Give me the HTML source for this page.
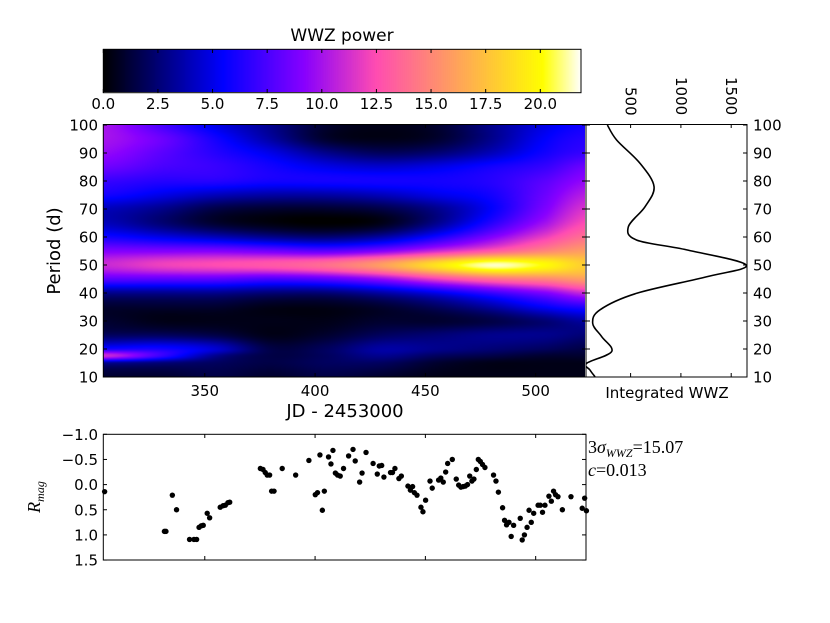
<!DOCTYPE html>
<html><head><meta charset="utf-8">
<style>
body{margin:0;background:#fff;width:830px;height:623px;overflow:hidden;position:relative;font-family:"DejaVu Sans","Liberation Sans",sans-serif}
canvas{position:absolute}
svg{position:absolute;left:0;top:0}
</style></head>
<body>
<canvas id="cb" width="478" height="43" style="left:103px;top:49px"></canvas>
<canvas id="hm" width="482" height="253" style="left:103px;top:124px"></canvas>
<svg id="s" width="830" height="623"></svg>
<script>
// ---- data ----
const periods = [100,95,90,85,80,75,70,65,60,55,50,45,40,35,30,25,20,17.5,15,10];
const jdCols = [305,330,355,380,405,430,455,480,505,523];
const powerRows = [
[10,7.5,5,3,1,0.5,1,3,5,6],
[10,8.5,6,3.5,1,0.5,1,3,5.5,6.5],
[9.5,8,6.5,5,3,2,2.5,4,6,7],
[8.5,7.5,7,6,5,4.5,5,6,7,8.5],
[7,6.5,6.5,6,6,6,6,6.5,8,9.5],
[6,5,4,3.5,3.5,4,5,6,8.5,10.5],
[4,3,1.5,1,1,1.5,3,5.5,9,11.5],
[4,2.5,1,0.3,0,0.5,3,6.5,10,12.5],
[6,5,4,3,2.5,3.5,6,9,12,14],
[9,9,9,8.5,8,9,11,13,15,16],
[11,12,12.5,13,14,16,19,21.5,20,18],
[8,8,8,7.5,8,9.5,12,14,15,16],
[3,3,3,2.5,2.5,3.5,5,7,9,11],
[1,1,1,0.5,0.5,1,2,3.5,5.5,6.5],
[1,0.5,0.5,0.5,0.5,1,1,1.5,2.5,3.5],
[2,2,1.5,0.5,1,2,2.5,3,3,2.5],
[6,6,4.5,1.5,2,3.5,3,2.5,2,1.5],
[11,7,3,1.5,2,3,2,1.5,1,1],
[3,2.5,2,1.5,2,2,1,0.5,0.5,0.5],
[1,1,1.5,1,1.5,1,0.5,0.5,0.5,0.5]];
const intPeriods = [100,94.6,86.3,78,70.8,63.6,58.9,55.4,50,45.8,39.9,34,29.2,24.4,19.1,14.9,12.5,10.1];
const intValues  = [269,362,594,733,643,477,561,1058,1648,1257,561,196,123,213,312,64,96,146];
const magJD = [304.6,331.7,332.4,335.3,337.2,343.1,345.1,346.3,347.4,348.4,349.3,351.1,352.2,357,358.3,359.3,360.5,361.3,375.2,376.4,377.4,378.3,379.4,380.3,381.4,385.1,391.2,397.2,400.1,401.1,402.2,403.3,404.2,406.1,407.2,408.1,409.2,410.2,411.4,412.9,415.2,417.2,418.2,420.2,421.3,423.1,426.3,428.2,429.1,430.2,431.2,434.2,435.1,436.2,438.0,439.1,442.1,443.2,444.2,445.0,446.2,448.0,448.9,450.1,452.1,453.1,456.0,457.0,458.1,459.2,460.1,462.2,464.0,465.1,466.1,467.1,468.1,469.1,470.1,471.1,472.0,473.1,474.0,474.9,475.9,477.0,480.9,482.0,483.1,485.0,485.9,486.8,487.9,490.0,488.9,493.0,493.9,494.9,496.1,497.0,498.0,499.1,501.1,502.1,503.1,504.2,506.0,507.1,508.1,509.0,510.1,512.1,516.0,521.1,522.2,523.0];
const magVal = [0.14,0.93,0.93,0.21,0.50,1.09,1.09,1.09,0.85,0.82,0.81,0.57,0.66,0.45,0.42,0.41,0.36,0.35,-0.32,-0.30,-0.24,-0.19,-0.19,0.13,0.13,-0.32,-0.19,-0.48,0.20,0.16,-0.59,0.51,0.13,-0.55,-0.41,-0.68,-0.23,-0.19,-0.17,-0.32,-0.57,-0.70,-0.47,-0.05,-0.23,-0.64,-0.42,-0.21,-0.37,-0.38,-0.15,-0.24,-0.24,-0.32,-0.12,-0.17,0.03,0.11,0.04,0.16,0.21,0.45,0.54,0.31,-0.07,0.07,-0.09,-0.13,-0.05,-0.25,-0.42,-0.50,-0.11,0.01,0.05,0.04,0.03,0.00,-0.17,-0.07,-0.11,-0.30,-0.50,-0.46,-0.40,-0.34,-0.19,-0.07,0.15,0.46,0.71,0.80,0.75,0.81,1.03,0.67,1.10,1.00,0.85,0.51,0.75,0.57,0.41,0.41,0.55,0.41,0.23,0.33,0.13,0.20,0.24,0.50,0.24,0.47,0.27,0.52];
const cbTicks = ["0.0","2.5","5.0","7.5","10.0","12.5","15.0","17.5","20.0"];
const periodTicks = [10,20,30,40,50,60,70,80,90,100];
const jdTicks = [350,400,450,500];
const intTicks = [500,1000,1500];
const magTicks = ["-1.0","-0.5","0.0","0.5","1.0","1.5"];
const VMAX = 21.9;

// ---- scales ----
const xJD = j => 103.3 + (j-304)*2.206;
const yP = p => 377 - (p-10)*2.8;
const yMag = m => 434.3 + (m+1)*50.3;
const xI = v => 580.3 + v*0.1006;
const xC = v => 103.3 + v*21.85;

function cmap(x){
  x=Math.max(0,Math.min(1,x));
  const c=v=>Math.max(0,Math.min(1,v));
  const r=c(x/0.32-0.78125), g=c(2*x-0.84);
  const b=c(x<0.25?4*x:x<0.42?1:x<0.92?-2*x+1.84:x/0.08-11.5);
  return [r*255,g*255,b*255];
}
function cr(p0,p1,p2,p3,t){return 0.5*((2*p1)+(-p0+p2)*t+(2*p0-5*p1+4*p2-p3)*t*t+(-p0+3*p1-3*p2+p3)*t*t*t);}
function interp1(xs,vals,x){
  let n=xs.length;
  if(x<=xs[0])return vals[0]; if(x>=xs[n-1])return vals[n-1];
  let i=0; while(xs[i+1]<x)i++;
  const t=(x-xs[i])/(xs[i+1]-xs[i]);
  return cr(vals[Math.max(0,i-1)],vals[i],vals[i+1],vals[Math.min(n-1,i+2)],t);
}
(function(){
  const cv=document.getElementById('cb'),ctx=cv.getContext('2d');
  for(let x=0;x<cv.width;x++){const [r,g,b]=cmap((x+0.5)/cv.width);ctx.fillStyle=`rgb(${r|0},${g|0},${b|0})`;ctx.fillRect(x,0,1,cv.height);}
})();
(function(){
  const cv=document.getElementById('hm'),ctx=cv.getContext('2d');
  const W=cv.width,H=cv.height,img=ctx.createImageData(W,H);
  const pAsc=periods.slice().reverse();
  for(let px=0;px<W;px++){
    const jd=304+(px+103.5-103.3)/2.206;
    const col=pAsc.map((p,k)=>interp1(jdCols,powerRows[periods.length-1-k],jd));
    for(let py=0;py<H;py++){
      const p=10+(377-(py+124.5))/2.8;
      const v=interp1(pAsc,col,p);
      const [r,g,b]=cmap(v/VMAX);
      const i=(py*W+px)*4;img.data[i]=r;img.data[i+1]=g;img.data[i+2]=b;img.data[i+3]=255;
    }
  }
  ctx.putImageData(img,0,0);
})();

const NS="http://www.w3.org/2000/svg",S=document.getElementById('s');
function el(t,a,txt){const e=document.createElementNS(NS,t);for(const k in a)e.setAttribute(k,a[k]);if(txt!==undefined)e.textContent=txt;S.appendChild(e);return e;}
function line(x1,y1,x2,y2){return el('line',{x1,y1,x2,y2,stroke:'#000','stroke-width':1});}

let e=el('rect',{x:103.3,y:49.3,width:477.7,height:43.4,fill:'none',stroke:'#000'});

e=el('text',{x:342,y:41,'font-size':17,'text-anchor':'middle'},'WWZ power');

cbTicks.forEach(t=>{const x=xC(parseFloat(t));line(x,49.3,x,53);line(x,92.7,x,89);
  const tx=el('text',{x:x,y:109,'font-size':15,'text-anchor':'middle'},t);
  });

e=el('rect',{x:103.3,y:124.5,width:482.7,height:252.5,fill:'none',stroke:'#000'});

periodTicks.forEach(p=>{const y=yP(p);line(103.3,y,107,y);line(582,y,586,y);
  const tx=el('text',{x:98,y:y+5.5,'font-size':15,'text-anchor':'end'},p);
  });
jdTicks.forEach(j=>{const x=xJD(j);line(x,124.5,x,128);line(x,377,x,373);
  const tx=el('text',{x:x,y:396,'font-size':15,'text-anchor':'middle'},j);
  });
e=el('text',{x:0,y:0,'font-size':18,'text-anchor':'middle',transform:'translate(60,251) rotate(-90)'},'Period (d)');

e=el('text',{x:345,y:417,'font-size':18,'text-anchor':'middle'},'JD - 2453000');


e=el('rect',{x:586,y:124.5,width:161,height:252.5,fill:'none',stroke:'#000'});

periodTicks.forEach(p=>{const y=yP(p);line(586,y,590,y);line(743,y,747,y);
  const tx=el('text',{x:753,y:y+5.5,'font-size':15},p);
  });
intTicks.forEach(v=>{const x=xI(v);line(x,124.5,x,128);line(x,377,x,373);
  const tx=el('text',{x:0,y:0,'font-size':15,transform:`translate(${x-5},${v>=1000?77:87}) rotate(90)`},v);
  });
e=el('text',{x:667,y:398,'font-size':15,'text-anchor':'middle'},'Integrated WWZ');

(function(){
  const pts=intPeriods.map((p,i)=>[xI(intValues[i]),yP(p)]);
  let d=`M${pts[0][0]},${pts[0][1]}`;
  for(let i=0;i<pts.length-1;i++){
    const p0=pts[Math.max(0,i-1)],p1=pts[i],p2=pts[i+1],p3=pts[Math.min(pts.length-1,i+2)];
    const c1=[p1[0]+(p2[0]-p0[0])/6,p1[1]+(p2[1]-p0[1])/6],c2=[p2[0]-(p3[0]-p1[0])/6,p2[1]-(p3[1]-p1[1])/6];
    d+=` C${c1[0]},${c1[1]} ${c2[0]},${c2[1]} ${p2[0]},${p2[1]}`;
  }
  const cp=el('clipPath',{id:'ic'});const r=document.createElementNS(NS,'rect');
  r.setAttribute('x',586);r.setAttribute('y',124.5);r.setAttribute('width',161);r.setAttribute('height',252.5);cp.appendChild(r);
  const c=el('path',{d,fill:'none',stroke:'#000','stroke-width':1.6,'clip-path':'url(#ic)'});
  
})();

e=el('rect',{x:103.3,y:434.3,width:482.7,height:125.7,fill:'none',stroke:'#000'});

magTicks.forEach(t=>{const y=yMag(parseFloat(t));line(103.3,y,107,y);line(582,y,586,y);
  const tx=el('text',{x:98,y:y+5.5,'font-size':15,'text-anchor':'end'},t.replace('-','\u2212'));
  });
jdTicks.forEach(j=>{const x=xJD(j);line(x,434.3,x,438);line(x,560,x,556);});
magJD.forEach((j,i)=>{const c=el('circle',{cx:xJD(j),cy:yMag(magVal[i]),r:2.7,fill:'#000'});
  });
e=el('text',{x:0,y:0,'font-size':18,'font-family':'Liberation Serif, serif','font-style':'italic','text-anchor':'middle',transform:'translate(40,497) rotate(-90)'},'');

e.innerHTML='R<tspan font-size="12" dy="4">mag</tspan>';
e=el('text',{x:588,y:453,'font-size':18,'font-family':'Liberation Serif, serif'},'');

e.innerHTML='3<tspan font-style="italic">σ</tspan><tspan font-size="12" dy="4" font-style="italic">WWZ</tspan><tspan dy="-4">=15.07</tspan>';
e=el('text',{x:588,y:476,'font-size':18,'font-family':'Liberation Serif, serif'},'');

e.innerHTML='<tspan font-style="italic">c</tspan>=0.013';
</script>
</body></html>
